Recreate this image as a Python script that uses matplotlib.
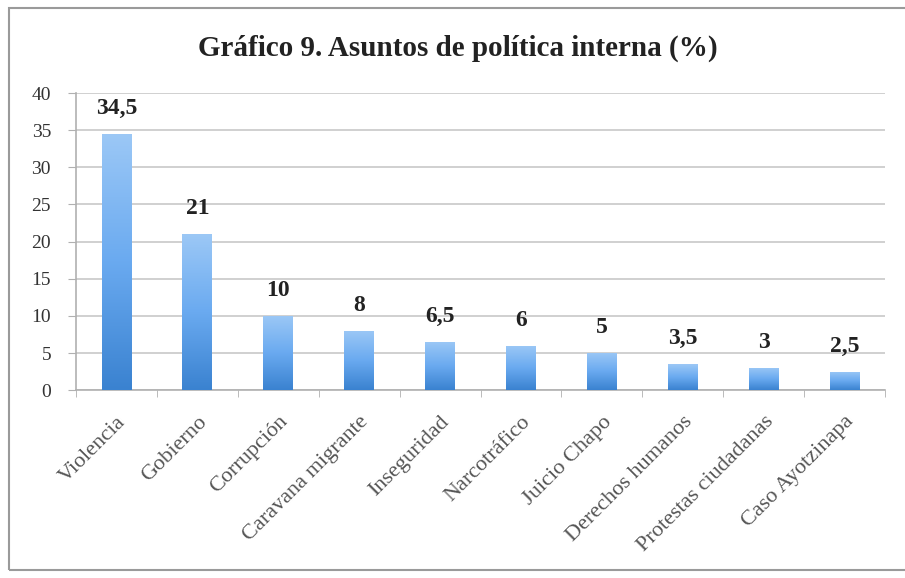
import numpy as np
import matplotlib.pyplot as plt
from matplotlib.patches import Rectangle
from matplotlib.colors import LinearSegmentedColormap

# -----------------------------
# Data
# -----------------------------
categories = ["Violencia", "Gobierno", "Corrupción", "Caravana migrante",
              "Inseguridad", "Narcotráfico", "Juicio Chapo", "Derechos humanos",
              "Protestas ciudadanas", "Caso Ayotzinapa"]
values = [34.5, 21, 10, 8, 6.5, 6, 5, 3.5, 3, 2.5]
value_labels = ["34,5", "21", "10", "8", "6,5", "6", "5", "3,5", "3", "2,5"]
y_ticks = [0, 5, 10, 15, 20, 25, 30, 35, 40]

title = "Gráfico 9. Asuntos de política interna (%)"
serif = ["Liberation Serif", "DejaVu Serif"]

fig = plt.figure(figsize=(9.05, 5.78), dpi=100)
ax = fig.add_axes([0.084, 0.325, 0.894, 0.514])

x = np.arange(len(categories))
bar_w = 0.37
bars = ax.bar(x, values, width=bar_w, color="none", edgecolor="none", zorder=3)

# gradient fill: light blue top, darker blue bottom
cmap = LinearSegmentedColormap.from_list("bl", ["#3a82d0", "#6aaaf0", "#9cc8f6"])
grad = np.linspace(0, 1, 256).reshape(-1, 1)
for b in bars:
    x0, y0 = b.get_x(), b.get_y()
    w, h = b.get_width(), b.get_height()
    im = ax.imshow(grad, cmap=cmap, aspect="auto", origin="lower",
                   extent=[x0, x0 + w, y0, y0 + h], zorder=3)
    im.set_clip_path(b)

for xi, v, lab in zip(x, values, value_labels):
    ax.text(xi, v + 2.0, lab, ha="center", va="bottom", fontsize=17,
            fontweight="bold", family=serif, color="#222222")

ax.set_xlim(-0.5, len(categories) - 0.5)
ax.set_ylim(0, 40)
ax.set_yticks(y_ticks)
ax.set_yticklabels([str(t) for t in y_ticks], family=serif, fontsize=14,
                   color="#333333")
ax.yaxis.grid(True, color="#c8c8c8", linewidth=1.2, zorder=0)
ax.set_axisbelow(True)

ax.set_xticks(x)
ax.set_xticklabels(categories, rotation=45, ha="right", rotation_mode="anchor",
                   family=serif, fontsize=16, color="#555555")
ax.tick_params(axis="x", length=0, pad=16)
ax.set_xticks(np.arange(-0.5, len(categories)), minor=True)
ax.tick_params(axis="x", which="minor", length=5, color="#b0b0b0")
ax.tick_params(axis="y", length=6, color="#b0b0b0", pad=12)

for s in ["top", "right"]:
    ax.spines[s].set_visible(False)
for s in ["left", "bottom"]:
    ax.spines[s].set_color("#b0b0b0")
    ax.spines[s].set_linewidth(1.2)

fig.text(0.506, 0.916, title, ha="center", va="center", fontsize=21,
         fontweight="bold", family=serif, color="#222222")

# outer chart frame
fig.patches.append(Rectangle((9 / 905, 8 / 578), 1.0, 1 - 16 / 578,
                             transform=fig.transFigure, fill=False,
                             edgecolor="#9a9a9a", linewidth=1.5))

fig.savefig("out.png", dpi=100, facecolor="white")
